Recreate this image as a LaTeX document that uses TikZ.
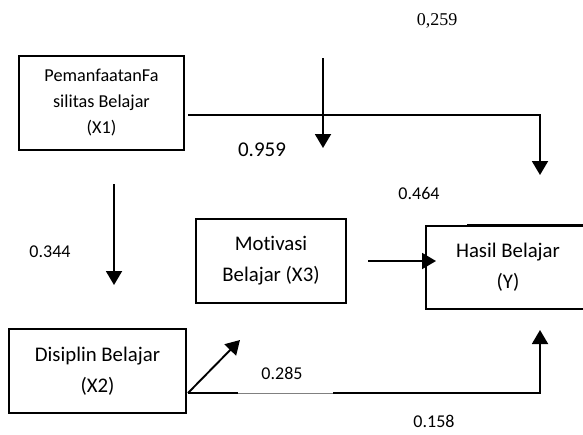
\documentclass[tikz,border=0pt]{standalone}
\usepackage{fontspec}
\setmainfont{Carlito}[Ligatures=NoCommon]
\newfontfamily\serifnum{Liberation Serif}
\usetikzlibrary{arrows.meta}
\begin{document}
\begin{tikzpicture}[x=1pt,y=-1pt,
  varbox/.style={draw,line width=1.5pt,align=center,inner sep=0pt,
    font=\fontsize{20.8}{31}\selectfont},
  link/.style={line width=1.9pt},
  arrow/.style={link,-{Triangle[width=16pt,length=14pt]}},
  coef/.style={font=\fontsize{18}{20}\selectfont,inner sep=0pt}]
\useasboundingbox (0,0) rectangle (583,434);

% variable boxes
\node[varbox,minimum width=165pt,minimum height=94pt,
  font=\fontsize{18.2}{26}\selectfont] (x1) at (101.5,103)
  {PemanfaatanFa\\silitas Belajar\\(X1)};
\node[varbox,minimum width=177pt,minimum height=84pt] (x2) at (97.5,371)
  {Disiplin Belajar\\(X2)};
\node[varbox,minimum width=150pt,minimum height=84pt] (x3) at (271,261)
  {Motivasi\\Belajar (X3)};
\node[varbox,minimum width=164pt,minimum height=83pt] (y) at (508,267.5)
  {Hasil Belajar\\(Y)};
\coordinate (ytop) at (467,224);
\draw[line width=0.8pt] (ytop) -- (583,224);

% free ends of the path arrows
\coordinate (a1s) at (114,184);
\coordinate (a1e) at (114,285);
\coordinate (b1s) at (188,115);
\coordinate (b1e) at (540,175);
\coordinate (c1s) at (323,58);
\coordinate (c1e) at (323,148);
\coordinate (d1s) at (368,261);
\coordinate (d1e) at (436,261);
\coordinate (e1s) at (188,393);
\coordinate (e1e) at (240,340);
\coordinate (g1) at (238,393);
\coordinate (g2) at (333,393);
\coordinate (f1e) at (540,330);

% connectors
\draw[arrow] (a1s) -- (a1e);
\draw[arrow] (b1s) -| (b1e);
\draw[arrow] (c1s) -- (c1e);
\draw[arrow] (d1s) -- (d1e);
\draw[arrow] (e1s) -- (e1e);
\draw[link] (e1s) -- (g1);
\draw[line width=0.8pt,gray] (g1) -- (g2);
\draw[arrow] (g2) -| (f1e);

% path coefficients
\node[coef,font=\serifnum\fontsize{18}{20}\selectfont] (k1) at (437,21) {0,259};
\node[coef,font=\fontsize{21}{24}\selectfont] (k2) at (262,150) {0.959};
\node[coef] (k3) at (419,193) {0.464};
\node[coef] (k4) at (50,252) {0.344};
\node[coef] (k5) at (282,373) {0.285};
\node[coef] (k6) at (434,421) {0.158};
\end{tikzpicture}
\end{document}
